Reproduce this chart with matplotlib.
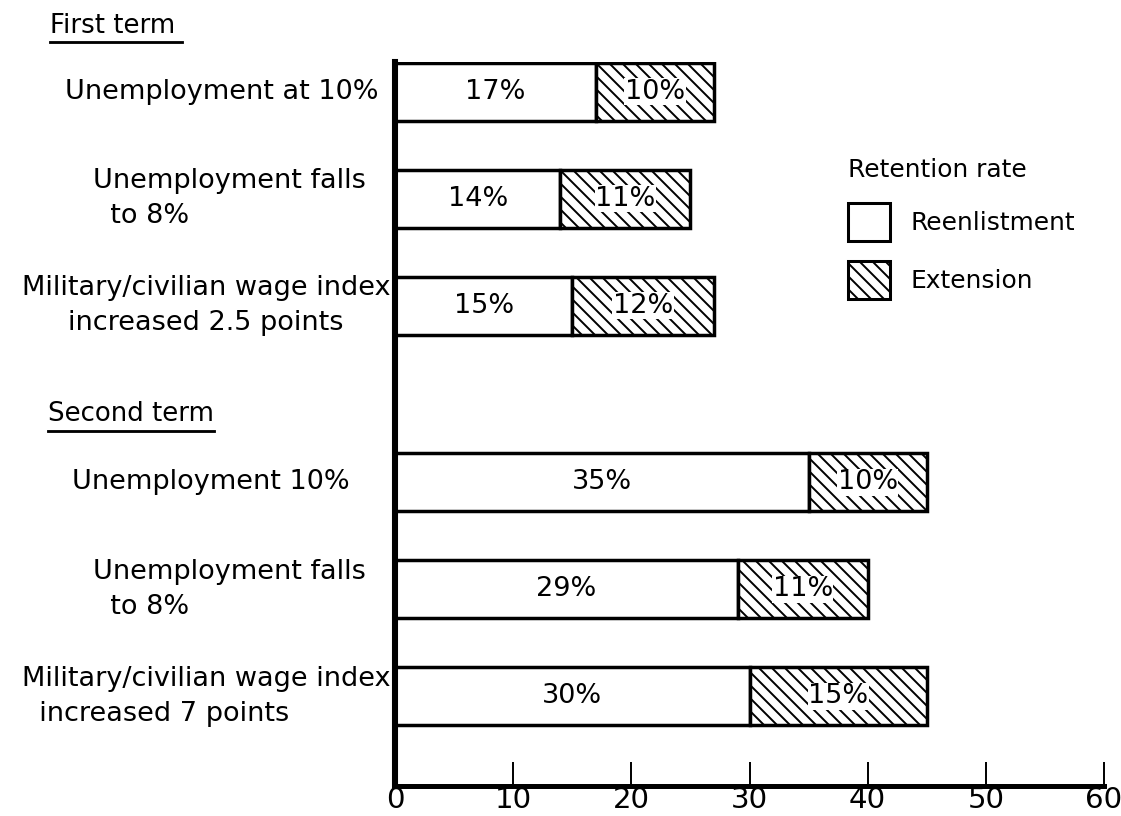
import matplotlib
matplotlib.use("Agg")
import matplotlib.pyplot as plt
from matplotlib.lines import Line2D

plt.rcParams['font.family'] = ['DejaVu Sans']
plt.rcParams['hatch.linewidth'] = 0.9

# data
categories = ["Unemployment at 10%",
              "Unemployment falls\n  to 8%",
              "Military/civilian wage index\nincreased 2.5 points",
              "Unemployment 10%",
              "Unemployment falls\n  to 8%",
              "Military/civilian wage index\n  increased 7 points"]
reenlistment = [17, 14, 15, 35, 29, 30]
extension = [10, 11, 12, 10, 11, 15]
groups = ["First term", "Second term"]
xticks = [0, 10, 20, 30, 40, 50, 60]

# layout
ypos = [0, 1, 2, 3.65, 4.65, 5.65]
label_x = [-14.7, -14.0, -16.0, -15.6, -14.0, -16.0]
label_align = ['center', 'left', 'center', 'center', 'left', 'left']

W, H, DPI = 1121, 816, 156
fig = plt.figure(figsize=(W / DPI, H / DPI), dpi=DPI)
ax = fig.add_axes([395 / W, 1 - 786 / H, (1104 - 395) / W, (786 - 62) / H])

bh = 0.54
ax.barh(ypos, reenlistment, height=bh, color='white', edgecolor='black',
        linewidth=1.6, label='Reenlistment')
ax.barh(ypos, extension, left=reenlistment, height=bh, color='white',
        edgecolor='black', hatch='\\\\\\\\', linewidth=1.6, label='Extension')

fs = 12.5
for y, r, e in zip(ypos, reenlistment, extension):
    ax.text(r / 2, y, f"{r}%", ha='center', va='center', fontsize=fs)
    ax.text(r + e / 2, y, f"{e}%", ha='center', va='center', fontsize=fs,
            bbox=dict(facecolor='white', edgecolor='none', pad=0.3))

for y, lab, lx, al in zip(ypos, categories, label_x, label_align):
    ax.text(lx, y, lab, ha='center', va='center', fontsize=fs,
            multialignment=al, linespacing=1.45, clip_on=False)

ax.set_xlim(0, 60)
ax.set_ylim(6.49, -0.28)
ax.set_xticks(xticks)
ax.set_yticks([])
ax.tick_params(axis='x', direction='in', length=11, width=0.9,
               labelsize=13.5, pad=10)
for t in ax.get_xticklabels():
    t.set_va('baseline')
ax.spines['top'].set_visible(False)
ax.spines['right'].set_visible(False)
ax.spines['left'].set_linewidth(2.8)
ax.spines['bottom'].set_linewidth(2.3)

# group headings with underline
fig.text(50 / W, 1 - 26 / H, groups[0], ha='left', va='center', fontsize=12)
fig.add_artist(Line2D([50 / W, 182 / W], [1 - 42 / H, 1 - 42 / H],
                      color='black', lw=1.3))
fig.text(48 / W, 1 - 414 / H, groups[1], ha='left', va='center', fontsize=12)
fig.add_artist(Line2D([48 / W, 214 / W], [1 - 431 / H, 1 - 431 / H],
                      color='black', lw=1.3))

leg = ax.legend(title='Retention rate', loc='upper left',
                bbox_to_anchor=(836 / W, 1 - 146 / H),
                bbox_transform=fig.transFigure, frameon=False, fontsize=11.5,
                title_fontsize=11.5, alignment='left', borderpad=0,
                handlelength=1.68, handleheight=1.96, handletextpad=0.8,
                labelspacing=0.82)
for p in leg.get_patches():
    p.set_linewidth(1.4)

plt.savefig('out.png', dpi=DPI)
